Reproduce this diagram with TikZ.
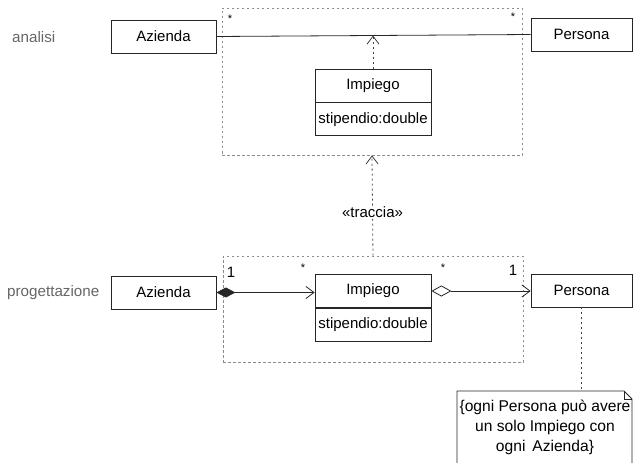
\documentclass[tikz,border=0pt]{standalone}
\usepackage{fontspec}
\setmainfont{Liberation Sans}
\usetikzlibrary{arrows.meta}
\begin{document}
\begin{tikzpicture}[x=1pt,y=-1pt,
  cls/.style={draw=black!85,line width=0.8pt,minimum width=#1,minimum height=33pt,inner sep=0pt,font=\fontsize{15}{17}\selectfont},
  frm/.style={draw=black!45,dash pattern=on 2.5pt off 2.5pt,line width=0.7pt,inner sep=0pt},
  dep/.style={draw=black!75,dash pattern=on 2pt off 3pt,line width=0.8pt},
  barb/.style={-{Straight Barb[length=8pt,width=12pt,line width=0.8pt]}},
  lbl/.style={text=black!60,font=\fontsize{15.2}{18}\selectfont,inner sep=0pt},
  mult/.style={font=\fontsize{15}{17}\selectfont,inner sep=0pt},
  star/.style={font=\fontsize{11}{13}\selectfont,inner sep=0pt},
  assoc/.style={draw=black!85,line width=0.8pt}
]
\useasboundingbox (0,0) rectangle (633,463);
% labels
\node[lbl,anchor=west] (lanal) at (12,37) {analisi};
\node[lbl,anchor=west] (lprog) at (7,293) {progettazione};
% frames
\node[frm,minimum width=300pt,minimum height=147pt] (frA) at (372,81.5) {};
\node[frm,minimum width=300pt,minimum height=106pt] (frB) at (373,309) {};
% analysis
\node[cls=105pt] (azA) at (163.5,36.5) {Azienda};
\node[cls=101pt] (peA) at (581.5,34.5) {Persona};
\node[cls=116pt] (imA) at (373,85.5) {Impiego};
\node[cls=116pt,anchor=north] (imAattr) at (imA.south) {stipendio:double};
\draw[assoc] (azA.east) -- (peA.west);
\coordinate (amid) at (373,35.5);
\draw[dep,barb] (imA.north) -- (amid);
\node[star] (mA1) at (230,19) {*};
\node[star] (mA2) at (513,17) {*};
% design
\node[cls=105pt] (azB) at (163.5,292.5) {Azienda};
\node[cls=116pt] (imB) at (373,291) {Impiego};
\node[cls=116pt,anchor=north] (imBattr) at (imB.south) {stipendio:double};
\node[cls=101pt] (peB) at (581.5,290.5) {Persona};
\draw[assoc,{Diamond[length=19pt,width=10pt]}-{Straight Barb[length=8pt,width=12pt,line width=0.8pt]}] (azB.east) -- (azB.east -| imB.west);
\draw[assoc,{Diamond[open,length=20pt,width=11pt,line width=0.8pt]}-{Straight Barb[length=8pt,width=12pt,line width=0.8pt]}] (imB.east) -- (imB.east -| peB.west);
\node[mult] (mB1) at (231,272) {1};
\node[star] (mB2) at (303,268) {*};
\node[star] (mB3) at (443,268) {*};
\node[mult] (mB4) at (513,270) {1};
% trace dependency
\draw[dep,barb] (frB.north) -- node[pos=0.43,fill=white,inner sep=1pt,font=\fontsize{15}{17}\selectfont] (trc) {«traccia»} (frA.south);
% note
\node[align=center,inner sep=0pt,font=\fontsize{15.6}{20}\selectfont] (note) at (545,427) {\{ogni Persona può avere\\un solo Impiego con\\ogni\, Azienda\}};
\coordinate (ntop) at (581.5,391);
\draw[black!85,line width=0.8pt] (457,463) -- (457,391) -- (624,391) -- (632,399) -- (632,463);
\draw[black!85,line width=0.6pt] (624,391) -- (624,399) -- (632,399);
\draw[dep] (peB.south) -- (ntop);
\end{tikzpicture}
\end{document}
